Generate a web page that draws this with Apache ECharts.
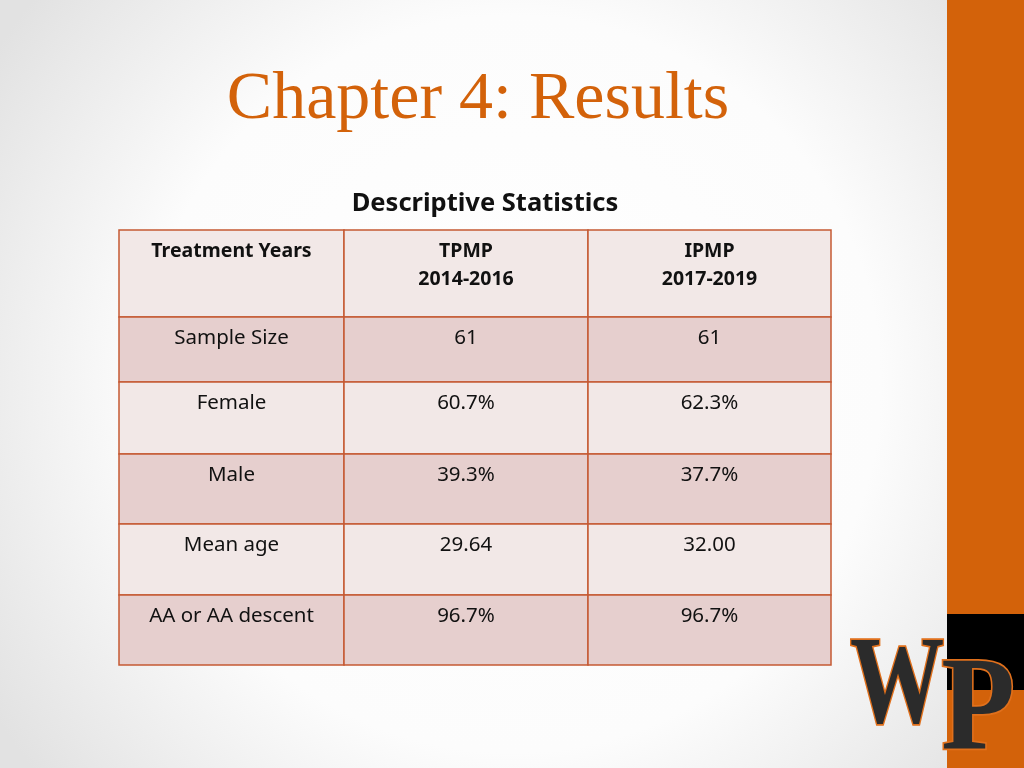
<!DOCTYPE html>
<html>
<head>
<meta charset="utf-8">
<script src="https://cdn.jsdelivr.net/npm/echarts@6/dist/echarts.min.js"></script>
<style>
  html, body { margin: 0; padding: 0; }
  #main { width: 1024px; height: 768px; }
</style>
</head>
<body>
<div id="main"></div>
<script>
// table data
const headerCells = ['Treatment Years', 'TPMP\n2014-2016', 'IPMP\n2017-2019'];
const rowLabels = ['Sample Size', 'Female', 'Male', 'Mean age', 'AA or AA descent'];
const tpmpValues = ['61', '60.7%', '39.3%', '29.64', '96.7%'];
const ipmpValues = ['61', '62.3%', '37.7%', '32.00', '96.7%'];

// layout
const colEdges = [119, 344, 588, 831];
const rowEdges = [230, 317, 382, 454, 524, 595, 665];
const borderColor = '#c55a33';
const lightFill = '#f2e8e7';
const darkFill = '#e6cfce';
const font = '"Noto Sans", sans-serif';

const chart = echarts.init(document.getElementById('main'));

const elements = [];

// background vignette
elements.push({
  type: 'rect',
  shape: { x: 0, y: 0, width: 1024, height: 768 },
  style: {
    fill: {
      type: 'radial', x: 0.5, y: 0.5, r: 0.8,
      colorStops: [
        { offset: 0, color: '#ffffff' },
        { offset: 0.6, color: '#fcfcfc' },
        { offset: 1, color: '#e2e2e2' }
      ]
    }
  },
  z: 0
});

// right side band
elements.push({ type: 'rect', shape: { x: 947, y: 0, width: 77, height: 768 }, style: { fill: '#d3620a' }, z: 1 });
elements.push({ type: 'rect', shape: { x: 947, y: 614, width: 77, height: 76 }, style: { fill: '#000000' }, z: 1 });

// title
elements.push({
  type: 'text', x: 478, y: 100,
  style: {
    text: 'Chapter 4: Results', fill: '#d3620a',
    font: '68px "Liberation Serif", serif',
    align: 'center', verticalAlign: 'middle'
  }, z: 5
});
elements.push({
  type: 'text', x: 485, y: 204,
  style: {
    text: 'Descriptive Statistics', fill: '#111',
    font: 'bold 25.5px ' + font, align: 'center', verticalAlign: 'middle'
  }, z: 5
});

// table cells
const allRows = [headerCells].concat(rowLabels.map((l, i) => [l, tpmpValues[i], ipmpValues[i]]));
allRows.forEach((row, r) => {
  const y0 = rowEdges[r], y1 = rowEdges[r + 1];
  row.forEach((txt, c) => {
    const x0 = colEdges[c], x1 = colEdges[c + 1];
    elements.push({
      type: 'rect',
      shape: { x: x0, y: y0, width: x1 - x0, height: y1 - y0 },
      style: { fill: r % 2 === 0 ? lightFill : darkFill, stroke: borderColor, lineWidth: 1.5 },
      z: 3
    });
    elements.push({
      type: 'text', x: (x0 + x1) / 2, y: y0 + 7,
      style: {
        text: txt, fill: '#111', align: 'center', verticalAlign: 'top',
        font: (r === 0 ? 'bold 19.5px ' : '20.5px ') + font, lineHeight: 28
      },
      z: 4
    });
  });
});

// WP logo
elements.push({
  type: 'text', x: 897, y: 690, scaleX: 0.76,
  style: {
    text: 'W', fill: '#2b2b2b', stroke: '#e0701c', lineWidth: 3.5,
    font: 'bold 124px "Liberation Serif", serif', align: 'center', verticalAlign: 'middle'
  }, z: 6
});
elements.push({
  type: 'text', x: 978, y: 713, scaleX: 0.9,
  style: {
    text: 'P', fill: '#2b2b2b', stroke: '#e0701c', lineWidth: 3.5,
    font: 'bold 134px "Liberation Serif", serif', align: 'center', verticalAlign: 'middle'
  }, z: 7
});

chart.setOption({
  animation: false,
  graphic: { elements: elements }
});
</script>
</body>
</html>
